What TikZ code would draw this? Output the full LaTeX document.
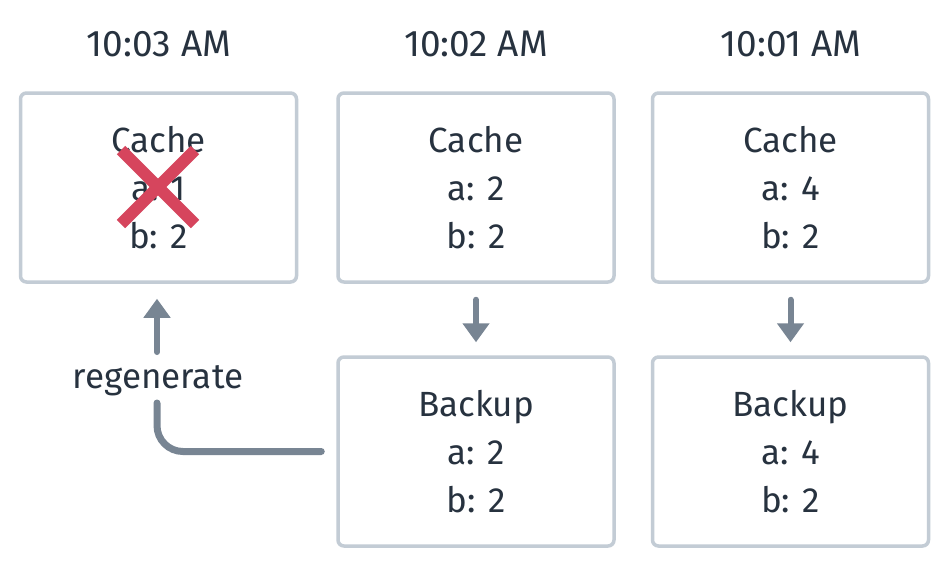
\documentclass[tikz,border=0pt]{standalone}
\usepackage{fontspec}
\setmainfont{Fira Sans}
\usetikzlibrary{arrows.meta,calc}
\definecolor{bordc}{HTML}{C3CCD5}
\definecolor{arrc}{HTML}{788593}
\definecolor{txtc}{HTML}{27323F}
\definecolor{xred}{HTML}{D6455D}
\begin{document}
\begin{tikzpicture}[x=1pt,y=-1pt,
  every node/.style={text=txtc, font=\fontsize{35}{48}\selectfont},
  box/.style={draw=bordc, line width=3.5pt, rounded corners=6pt,
    minimum width=276pt, minimum height=189pt, align=center, inner sep=0pt},
  timelbl/.style={anchor=base, font=\fontsize{37}{48}\selectfont},
  arr/.style={draw=arrc, line width=6pt, line cap=round,
    -{Triangle[width=26pt,length=19pt]}},
  link/.style={draw=arrc, line width=7pt, line cap=round, rounded corners=26pt},
  cross/.style={draw=xred, line width=12pt}]
\fill[white] (0,0) rectangle (950,568);
\useasboundingbox (0,0) rectangle (950,568);

\node[timelbl] (t1) at (159,56) {10:03 AM};
\node[timelbl] (t2) at (476,56) {10:02 AM};
\node[timelbl] (t3) at (791,56) {10:01 AM};

\node[box] (c1) at (158.5,187.5) {Cache\\a: 1\\b: 2};
\node[box] (c2) at (476,187.5) {Cache\\a: 2\\b: 2};
\node[box] (c3) at (790.5,187.5) {Cache\\a: 4\\b: 2};
\node[box] (b2) at (476,451.5) {Backup\\a: 2\\b: 2};
\node[box] (b3) at (790.5,451.5) {Backup\\a: 4\\b: 2};

\coordinate (xc) at (158,187);
\draw[cross] ($(xc)+(-37,-37)$) -- ($(xc)+(37,37)$);
\draw[cross] ($(xc)+(37,-37)$) -- ($(xc)+(-37,37)$);

\draw[arr, shorten <=16pt, shorten >=13pt] (c2.south) -- (b2.north);
\draw[arr, shorten <=16pt, shorten >=13pt] (c3.south) -- (b3.north);

\node[anchor=base] (rg) at (158,388) {regenerate};
\coordinate (rgtop) at (157,352);
\coordinate (rgbot) at (157,403);
\draw[arr] (rgtop) -- ([xshift=-1.5pt,yshift=-15pt]c1.south);
\draw[link] ([xshift=-15pt]b2.west) -| (rgbot);
\end{tikzpicture}
\end{document}
